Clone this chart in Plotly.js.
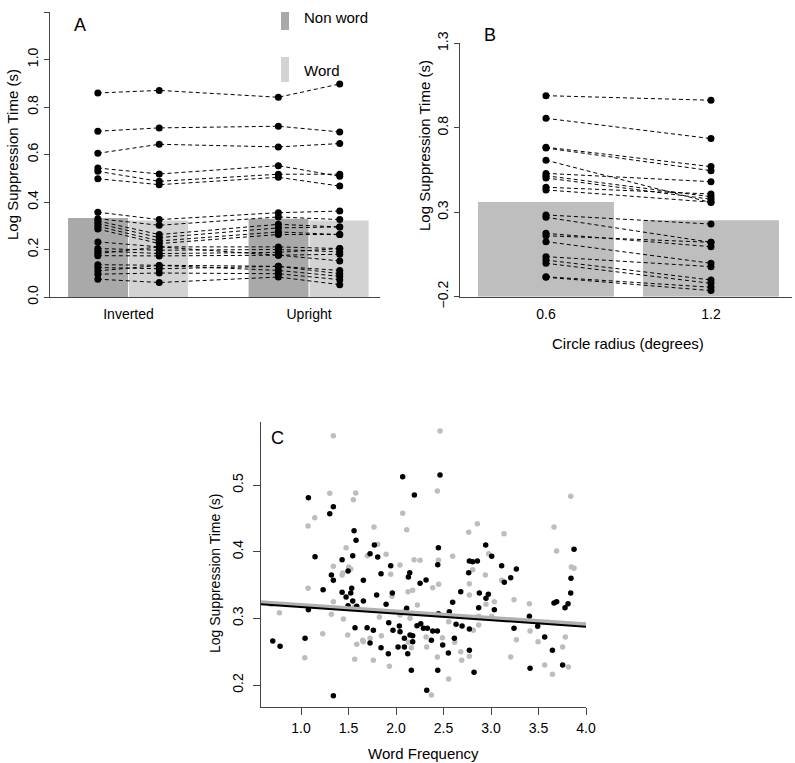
<!DOCTYPE html>
<html>
<head>
<meta charset="utf-8">
<script src="https://cdn.plot.ly/plotly-3.0.1.min.js"></script>
<style>
  html, body { margin: 0; padding: 0; background: white; }
  #chart { width: 795px; height: 763px; }
</style>
</head>
<body>
<div id="chart"></div>
<script>
// Panel A: per-subject log suppression times
var aGroups = ['Inverted', 'Upright'];
var aInvNonword = [0.859, 0.698, 0.605, 0.543, 0.529, 0.498, 0.357, 0.330, 0.320, 0.309, 0.298, 0.286, 0.232, 0.204, 0.194, 0.183, 0.174, 0.136, 0.124, 0.110, 0.096, 0.075];
var aInvWord    = [0.870, 0.712, 0.643, 0.518, 0.487, 0.473, 0.326, 0.302, 0.263, 0.250, 0.236, 0.225, 0.211, 0.197, 0.183, 0.211, 0.173, 0.133, 0.119, 0.133, 0.101, 0.061];
var aUprNonword = [0.841, 0.719, 0.632, 0.553, 0.517, 0.504, 0.355, 0.337, 0.306, 0.291, 0.274, 0.263, 0.211, 0.200, 0.188, 0.176, 0.176, 0.129, 0.129, 0.112, 0.098, 0.084];
var aUprWord    = [0.897, 0.695, 0.646, 0.508, 0.517, 0.467, 0.362, 0.326, 0.295, 0.295, 0.263, 0.263, 0.204, 0.190, 0.204, 0.180, 0.152, 0.112, 0.098, 0.087, 0.073, 0.052];
var aMeanNonword = [0.333, 0.330];
var aMeanWord    = [0.322, 0.322];

// Panel B: circle radius
var bRadius = ['0.6', '1.2'];
var bSmall = [0.990, 0.856, 0.685, 0.680, 0.608, 0.530, 0.516, 0.503, 0.448, 0.432, 0.284, 0.270, 0.175, 0.161, 0.126, 0.037, 0.017, -0.002, -0.082, -0.085];
var bLarge = [0.963, 0.736, 0.570, 0.546, 0.357, 0.481, 0.392, 0.377, 0.408, 0.360, 0.230, 0.122, 0.096, 0.122, -0.002, -0.022, -0.101, -0.121, -0.144, -0.164];
var bMeans = [0.360, 0.252];

// Panel C: word frequency scatter
var cBlackFreq = [0.702, 0.779, 1.042, 1.077, 1.077, 1.147, 1.232, 1.302, 1.34, 1.319, 1.34, 1.34, 1.432, 1.432, 1.474, 1.495, 1.495, 1.523, 1.533, 1.544, 1.544, 1.558, 1.579, 1.568, 1.586, 1.656, 1.656, 1.695, 1.726, 1.726, 1.761, 1.772, 1.796, 1.807, 1.842, 1.842, 1.895, 1.919, 1.923, 1.944, 1.961, 1.968, 2.021, 2.035, 2.042, 2.07, 2.088, 2.088, 2.112, 2.123, 2.13, 2.144, 2.147, 2.161, 2.175, 2.175, 2.193, 2.221, 2.253, 2.26, 2.288, 2.316, 2.323, 2.33, 2.372, 2.386, 2.435, 2.439, 2.439, 2.446, 2.446, 2.463, 2.491, 2.551, 2.561, 2.596, 2.614, 2.632, 2.681, 2.695, 2.765, 2.772, 2.772, 2.772, 2.807, 2.821, 2.856, 2.87, 2.877, 2.944, 2.947, 2.972, 3.007, 3.035, 3.112, 3.14, 3.207, 3.242, 3.267, 3.404, 3.411, 3.491, 3.565, 3.646, 3.663, 3.691, 3.754, 3.779, 3.811, 3.839, 3.842, 3.874];
var cBlackTime = [0.266, 0.258, 0.27, 0.313, 0.481, 0.3925, 0.343, 0.457, 0.4675, 0.365, 0.357, 0.184, 0.388, 0.339, 0.332, 0.371, 0.319, 0.338, 0.345, 0.326, 0.394, 0.4315, 0.417, 0.286, 0.318, 0.326, 0.357, 0.286, 0.397, 0.263, 0.282, 0.41, 0.335, 0.392, 0.367, 0.256, 0.321, 0.247, 0.2935, 0.379, 0.338, 0.282, 0.257, 0.2885, 0.28, 0.5125, 0.27, 0.257, 0.315, 0.247, 0.362, 0.3685, 0.275, 0.222, 0.274, 0.265, 0.485, 0.289, 0.3525, 0.292, 0.285, 0.3575, 0.192, 0.285, 0.267, 0.281, 0.281, 0.222, 0.3805, 0.406, 0.307, 0.515, 0.26, 0.248, 0.31, 0.324, 0.27, 0.291, 0.34, 0.2885, 0.3685, 0.386, 0.284, 0.252, 0.385, 0.219, 0.386, 0.316, 0.338, 0.41, 0.33, 0.336, 0.393, 0.313, 0.379, 0.354, 0.361, 0.285, 0.374, 0.303, 0.225, 0.288, 0.272, 0.252, 0.323, 0.325, 0.23, 0.316, 0.322, 0.338, 0.36, 0.4035];
var cGreyFreq = [0.684, 0.772, 1.039, 1.074, 1.074, 1.144, 1.228, 1.302, 1.319, 1.34, 1.34, 1.34, 1.432, 1.439, 1.446, 1.474, 1.491, 1.502, 1.523, 1.551, 1.558, 1.575, 1.565, 1.586, 1.649, 1.656, 1.698, 1.726, 1.761, 1.768, 1.807, 1.825, 1.846, 1.895, 1.93, 1.944, 1.958, 2.042, 2.042, 2.07, 2.091, 2.112, 2.126, 2.13, 2.147, 2.161, 2.175, 2.19, 2.225, 2.253, 2.316, 2.323, 2.372, 2.386, 2.435, 2.435, 2.446, 2.449, 2.463, 2.467, 2.488, 2.554, 2.554, 2.596, 2.618, 2.681, 2.691, 2.765, 2.772, 2.772, 2.772, 2.807, 2.814, 2.856, 2.87, 2.87, 2.94, 2.947, 2.975, 3.007, 3.035, 3.112, 3.137, 3.207, 3.242, 3.267, 3.404, 3.411, 3.495, 3.565, 3.646, 3.663, 3.691, 3.754, 3.782, 3.814, 3.839, 3.846, 3.874];
var cGreyTime = [0.321, 0.3085, 0.241, 0.345, 0.4385, 0.451, 0.277, 0.4875, 0.306, 0.574, 0.378, 0.325, 0.365, 0.368, 0.299, 0.406, 0.275, 0.377, 0.374, 0.478, 0.317, 0.488, 0.2385, 0.261, 0.267, 0.265, 0.394, 0.27, 0.237, 0.437, 0.411, 0.302, 0.274, 0.396, 0.228, 0.366, 0.333, 0.38, 0.305, 0.4575, 0.311, 0.433, 0.34, 0.264, 0.3, 0.256, 0.342, 0.388, 0.32, 0.387, 0.272, 0.257, 0.185, 0.346, 0.491, 0.242, 0.387, 0.351, 0.581, 0.305, 0.271, 0.209, 0.295, 0.393, 0.264, 0.25, 0.237, 0.429, 0.352, 0.335, 0.243, 0.373, 0.282, 0.442, 0.29, 0.303, 0.365, 0.321, 0.397, 0.303, 0.325, 0.357, 0.427, 0.242, 0.328, 0.268, 0.322, 0.281, 0.265, 0.23, 0.216, 0.437, 0.401, 0.257, 0.272, 0.227, 0.483, 0.377, 0.375];
var cFitX = [0.575, 4.0];
var cFitBlack = [0.321, 0.2875];
var cFitGrey = [0.324, 0.291];

var FONT = 'Liberation Sans, Arial, sans-serif';
var AXCOL = '#444';
var NONWORD_COL = '#a9a9a9';
var WORD_COL = '#d3d3d3';

var aShift = 0.17;  // dot offset from group centre in panel A
var bBase = -0.2;

var data = [];

// panel A bars
data.push({
  type: 'bar', x: [1, 2], y: aMeanNonword, width: 0.332, offset: -0.335,
  marker: {color: NONWORD_COL}, xaxis: 'x', yaxis: 'y', hoverinfo: 'skip'
});
data.push({
  type: 'bar', x: [1, 2], y: aMeanWord, width: 0.327, offset: 0.003,
  marker: {color: WORD_COL}, xaxis: 'x', yaxis: 'y', hoverinfo: 'skip'
});

// panel A subject lines
for (var i = 0; i < aInvNonword.length; i++) {
  data.push({
    type: 'scatter', mode: 'lines+markers',
    x: [1 - aShift, 1 + aShift, 2 - aShift, 2 + aShift],
    y: [aInvNonword[i], aInvWord[i], aUprNonword[i], aUprWord[i]],
    line: {color: 'black', width: 1, dash: '4px,3px'},
    marker: {color: 'black', size: 7},
    xaxis: 'x', yaxis: 'y'
  });
}

// panel B bars
data.push({
  type: 'bar', x: [1, 2], y: bMeans.map(function (v) { return v - bBase; }),
  base: bBase, width: 0.824,
  marker: {color: '#bebebe'}, xaxis: 'x2', yaxis: 'y2', hoverinfo: 'skip'
});

// panel B subject lines
for (var j = 0; j < bSmall.length; j++) {
  data.push({
    type: 'scatter', mode: 'lines+markers',
    x: [1, 2], y: [bSmall[j], bLarge[j]],
    line: {color: 'black', width: 1, dash: '4px,3px'},
    marker: {color: 'black', size: 7},
    xaxis: 'x2', yaxis: 'y2'
  });
}

// panel C
data.push({
  type: 'scatter', mode: 'markers', x: cGreyFreq, y: cGreyTime,
  marker: {color: '#bdbdbd', size: 5.5}, xaxis: 'x3', yaxis: 'y3'
});
data.push({
  type: 'scatter', mode: 'markers', x: cBlackFreq, y: cBlackTime,
  marker: {color: 'black', size: 5.5}, xaxis: 'x3', yaxis: 'y3'
});
data.push({
  type: 'scatter', mode: 'lines', x: cFitX, y: cFitGrey,
  line: {color: '#b0b0b0', width: 4}, xaxis: 'x3', yaxis: 'y3'
});
data.push({
  type: 'scatter', mode: 'lines', x: cFitX, y: cFitBlack,
  line: {color: 'black', width: 2}, xaxis: 'x3', yaxis: 'y3'
});

function px(v) { return v / 795; }
function py(v) { return 1 - v / 763; }

function note(text, x, y, size, extra) {
  var a = {text: text, xref: 'paper', yref: 'paper', x: px(x), y: py(y),
           xanchor: 'center', yanchor: 'middle', showarrow: false,
           font: {size: size, color: 'black'}};
  for (var k in extra) a[k] = extra[k];
  return a;
}

var tickFont = {family: FONT, size: 14, color: 'black'};

var layout = {
  width: 795, height: 763,
  margin: {l: 0, r: 0, t: 0, b: 0},
  paper_bgcolor: 'white', plot_bgcolor: 'white',
  showlegend: false,
  barmode: 'overlay',
  font: {family: FONT, color: 'black'},
  xaxis: {
    domain: [px(50), px(380)], range: [0.565, 2.393], anchor: 'y',
    tickvals: [1, 2], ticktext: aGroups, ticks: '', ticklabelstandoff: 4,
    showline: true, linecolor: AXCOL, linewidth: 1, showgrid: false, zeroline: false,
    tickfont: tickFont
  },
  yaxis: {
    domain: [py(297), py(12)], range: [0, 1.2], anchor: 'x',
    tickvals: [0, 0.2, 0.4, 0.6, 0.8, 1.0, 1.2], tickformat: '.1f',
    ticks: 'outside', ticklen: 5, tickcolor: AXCOL, tickangle: -90, ticklabelstandoff: 0,
    showline: true, linecolor: AXCOL, linewidth: 1, showgrid: false, zeroline: false,
    tickfont: tickFont
  },
  xaxis2: {
    domain: [px(460), px(792)], range: [0.479, 2.491], anchor: 'y2',
    tickvals: [1, 2], ticktext: bRadius, ticks: '', ticklabelstandoff: 4,
    showline: true, linecolor: AXCOL, linewidth: 1, showgrid: false, zeroline: false,
    tickfont: tickFont
  },
  yaxis2: {
    domain: [py(296.7), py(43.3)], range: [-0.2, 1.3], anchor: 'x2',
    tickvals: [-0.2, 0.3, 0.8, 1.3], tickformat: '.1f',
    ticks: 'outside', ticklen: 5, tickcolor: AXCOL, tickangle: -90, ticklabelstandoff: 0,
    showline: true, linecolor: AXCOL, linewidth: 1, showgrid: false, zeroline: false,
    tickfont: tickFont
  },
  xaxis3: {
    domain: [px(260.7), px(586)], range: [0.575, 4.0], anchor: 'y3',
    tickvals: [1.0, 1.5, 2.0, 2.5, 3.0, 3.5, 4.0], tickformat: '.1f',
    ticks: 'outside', ticklen: 7, tickcolor: AXCOL, ticklabelstandoff: 1,
    showline: true, linecolor: AXCOL, linewidth: 1, showgrid: false, zeroline: false,
    tickfont: tickFont
  },
  yaxis3: {
    domain: [py(706.7), py(421.7)], range: [0.1675, 0.595], anchor: 'x3',
    tickvals: [0.2, 0.3, 0.4, 0.5], tickformat: '.1f',
    ticks: 'outside', ticklen: 7, tickcolor: AXCOL, tickangle: -90, ticklabelstandoff: 4,
    showline: true, linecolor: AXCOL, linewidth: 1, showgrid: false, zeroline: false,
    tickfont: tickFont
  },
  shapes: [
    {type: 'rect', xref: 'paper', yref: 'paper', x0: px(281), x1: px(289), y0: py(30), y1: py(12),
     fillcolor: NONWORD_COL, line: {width: 0}},
    {type: 'rect', xref: 'paper', yref: 'paper', x0: px(281), x1: px(289), y0: py(82), y1: py(57),
     fillcolor: WORD_COL, line: {width: 0}}
  ],
  annotations: [
    note('A', 80, 25, 18),
    note('B', 490, 35, 18),
    note('C', 277, 438, 18),
    note('Non word', 302, 18, 15, {xanchor: 'left'}),
    note('Word', 302, 70, 15, {xanchor: 'left'}),
    note('Log Suppression Time (s)', 12, 155, 15, {textangle: -90}),
    note('Log Suppression Time (s)', 425, 146, 15, {textangle: -90}),
    note('Log Suppression Time (s)', 215, 573, 14, {textangle: -90}),
    note('Circle radius (degrees)', 628, 343, 15),
    note('Word Frequency', 423, 753, 15)
  ]
};

Plotly.newPlot('chart', data, layout, {displayModeBar: false, staticPlot: true});
</script>
</body>
</html>
